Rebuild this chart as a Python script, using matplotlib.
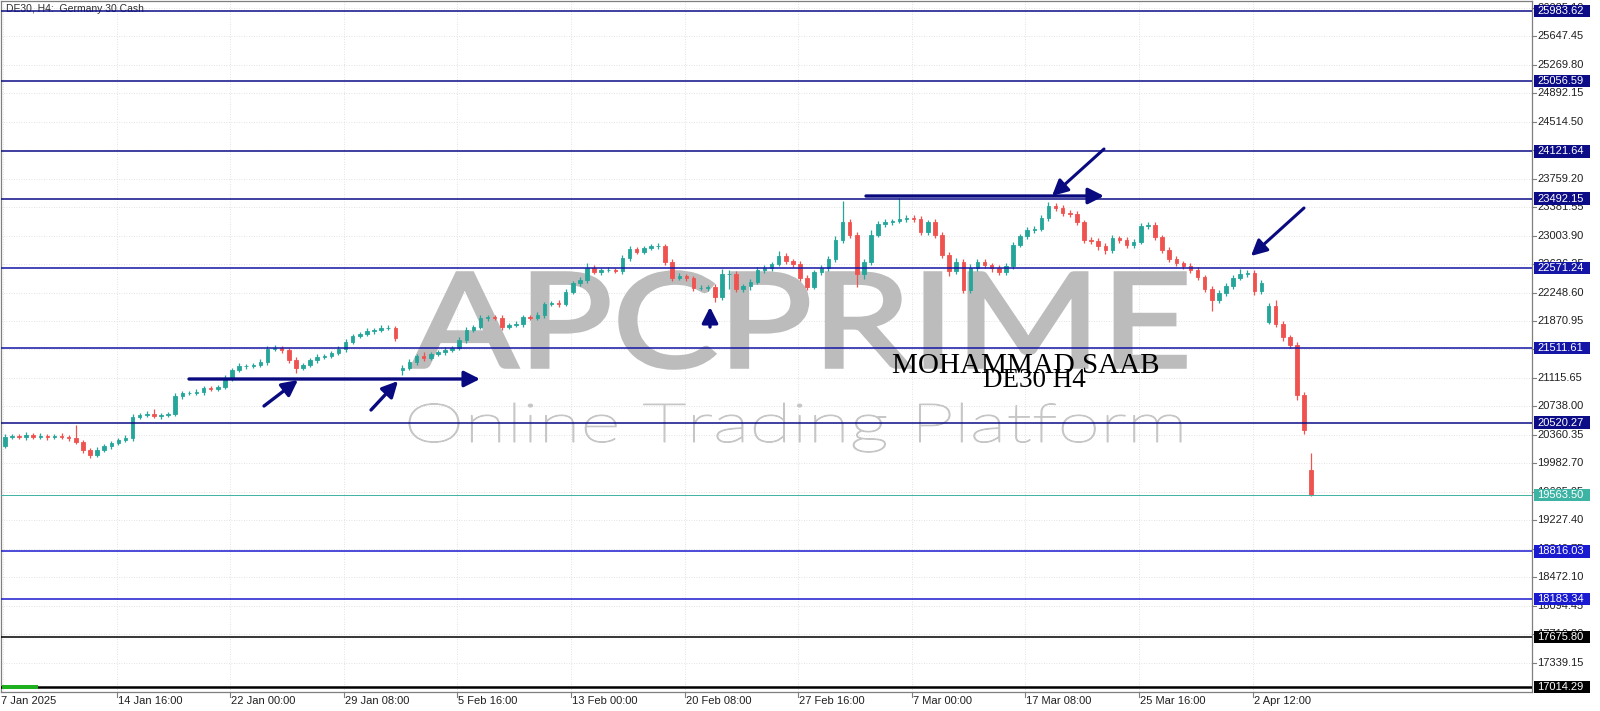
import matplotlib
matplotlib.use('Agg')
import matplotlib.pyplot as plt
import numpy as np
from matplotlib.patches import Rectangle, PathPatch, FancyArrowPatch
from matplotlib.textpath import TextPath
from matplotlib.font_manager import FontProperties
from matplotlib.transforms import Affine2D, IdentityTransform

plt.rcParams['font.family'] = ['Liberation Sans', 'DejaVu Sans']

# ---------------- data ----------------
# one candle = two H4 bars
closes = [
    20331, 20345, 20331, 20358, 20331, 20345, 20331, 20345, 20331, 20318,
    20265, 20159, 20093, 20159, 20212, 20252, 20292, 20318, 20597, 20623,
    20637, 20610, 20623, 20637, 20875, 20915, 20915, 20928, 20982, 20968,
    20995, 21114, 21220, 21273, 21273, 21287, 21327, 21499, 21512, 21486,
    21353, 21247, 21287, 21353, 21393, 21406, 21446, 21499, 21592, 21672,
    21698, 21738, 21751, 21778, 21778, 21645, 21247, 21327, 21406, 21380,
    21433, 21459, 21486, 21512, 21618, 21751, 21791, 21910, 21924, 21910,
    21791, 21817, 21831, 21924, 21910, 21950, 22096, 22109, 22096, 22255,
    22375, 22415, 22574, 22521, 22547, 22547, 22534, 22706, 22826, 22786,
    22839, 22866, 22866, 22653, 22441, 22468, 22441, 22308, 22308, 22322,
    22189, 22494, 22494, 22295, 22335, 22388, 22547, 22574, 22627, 22733,
    22667, 22627, 22441, 22322, 22521, 22574, 22693, 22945, 23184, 23012,
    22494, 22653, 23012, 23158, 23184, 23197, 23224, 23237, 23224, 23051,
    23184, 23012, 22746, 22534, 22653, 22282, 22574, 22653, 22614, 22574,
    22521, 22600, 22879, 22998, 23078, 23091, 23237, 23396, 23370, 23303,
    23290, 23184, 22945, 22932, 22866, 22813, 22972, 22945, 22879, 22919,
    23131, 23144, 22985, 22813, 22693, 22640, 22600, 22547, 22454, 22295,
    22149, 22242, 22335, 22441, 22494, 22507, 22269, 22375, 22070, 21831,
    21658, 21552, 20889, 20424, 19563.5]
gap_opens = {0: 20212, 56: 21220, 178: 21857, 184: 19894}
up_wick = [
    40, 25, 30, 45, 20, 35, 30, 25, 40, 30,
    172, 30, 25, 35, 20, 30, 25, 40, 45, 30,
    35, 60, 25, 30, 40, 30, 25, 35, 20, 30,
    25, 40, 30, 35, 25, 30, 45, 35, 40, 25,
    30, 35, 25, 30, 40, 25, 30, 35, 40, 30,
    25, 35, 30, 40, 45, 30, 35, 40, 25, 50,
    30, 25, 35, 30, 40, 35, 30, 45, 30, 25,
    35, 30, 40, 25, 30, 35, 30, 25, 40, 35,
    30, 40, 60, 35, 30, 45, 30, 40, 35, 30,
    25, 30, 40, 30, 35, 40, 30, 25, 35, 30,
    40, 60, 50, 35, 30, 40, 45, 35, 30, 60,
    35, 30, 40, 35, 30, 45, 40, 50, 280, 40,
    35, 45, 60, 40, 35, 30, 280, 40, 35, 40,
    30, 45, 40, 35, 60, 40, 50, 35, 40, 30,
    35, 40, 45, 30, 40, 35, 45, 55, 40, 35,
    40, 35, 30, 45, 40, 35, 40, 30, 35, 40,
    45, 40, 35, 30, 40, 35, 30, 40, 35, 30,
    40, 35, 45, 40, 60, 45, 35, 40, 40, 80,
    45, 30, 40, 35, 225]
dn_wick = [
    20, 30, 25, 35, 30, 25, 40, 30, 25, 35,
    30, 45, 40, 30, 25, 35, 30, 25, 40, 30,
    25, 30, 35, 25, 30, 40, 25, 30, 35, 25,
    30, 25, 40, 30, 35, 25, 30, 35, 25, 40,
    45, 67, 30, 25, 35, 30, 25, 30, 35, 25,
    30, 25, 35, 30, 25, 40, 60, 30, 45, 35,
    25, 30, 35, 25, 30, 40, 30, 25, 35, 30,
    40, 30, 25, 35, 30, 25, 40, 30, 35, 25,
    30, 35, 40, 30, 35, 25, 30, 40, 35, 30,
    25, 30, 35, 40, 45, 30, 35, 40, 30, 45,
    60, 45, 200, 40, 35, 50, 30, 35, 40, 30,
    35, 40, 45, 40, 30, 35, 40, 35, 45, 40,
    170, 60, 35, 30, 40, 35, 30, 35, 40, 45,
    35, 40, 45, 60, 40, 40, 35, 45, 40, 50,
    45, 40, 35, 30, 40, 35, 30, 40, 45, 35,
    40, 45, 35, 40, 50, 60, 35, 40, 45, 35,
    30, 35, 40, 45, 35, 40, 45, 35, 40, 45,
    150, 40, 35, 45, 30, 35, 50, 45, 30, 40,
    50, 45, 60, 50, 20]

level_prices = [25983.62, 25056.59, 24121.64, 23492.15, 22571.24, 21511.61,
                20520.27, 19563.50, 18816.03, 18183.34, 17675.80, 17014.29]
level_labels = ['25983.62', '25056.59', '24121.64', '23492.15', '22571.24', '21511.61',
                '20520.27', '19563.50', '18816.03', '18183.34', '17675.80', '17014.29']
level_colors = ['#0c0c86', '#0c0c86', '#0c0c86', '#0c0c86', '#1414a6', '#1414a6',
                '#0c0c86', '#3db3a3', '#1a1ad0', '#1a1ad0', '#000000', '#000000']

tick_labels = ['17339.15', '17716.80', '18094.45', '18472.10', '18849.75', '19227.40',
               '19605.05', '19982.70', '20360.35', '20738.00', '21115.65', '21493.30',
               '21870.95', '22248.60', '22626.25', '23003.90', '23381.55', '23759.20',
               '24136.85', '24514.50', '24892.15', '25269.80', '25647.45', '26025.10']

x_labels = ['7 Jan 2025', '14 Jan 16:00', '22 Jan 00:00', '29 Jan 08:00', '5 Feb 16:00',
            '13 Feb 00:00', '20 Feb 08:00', '27 Feb 16:00', '7 Mar 00:00', '17 Mar 08:00',
            '25 Mar 16:00', '2 Apr 12:00']
x_label_bars = [0, 32, 64, 96, 128, 160, 192, 224, 256, 288, 320, 352]

# ---------------- layout ----------------
W, H = 1600, 711
AX_L, AX_R, AX_T, AX_B = 1, 1532, 1, 692
PPP = 13.268            # price per pixel
BARPX = 3.55            # pixels per H4 bar


def py_price(y):
    return 25983.62 - (y - 11) * PPP


def bar_of_px(x):
    return (x - 3) / BARPX


def fx(px):
    return (px - AX_L) / (AX_R - AX_L)


def fy(py):
    return (AX_B - py) / (AX_B - AX_T)


fig = plt.figure(figsize=(W / 100, H / 100), dpi=100)
fig.patch.set_facecolor('white')
ax = fig.add_axes([AX_L / W, (H - AX_B) / H, (AX_R - AX_L) / W, (AX_B - AX_T) / H])
ax.set_facecolor('white')
ax.set_xlim(bar_of_px(AX_L), bar_of_px(AX_R))
ax.set_ylim(py_price(AX_B), py_price(AX_T))
ax.set_xticks([])
ax.set_yticks([])
for sp in ax.spines.values():
    sp.set_color('#7f7f7f')
    sp.set_linewidth(0.9)

tick_vals = [float(t) for t in tick_labels]

# grid
for v in tick_vals:
    ax.axhline(v, color='#d9d9d9', lw=0.6, ls=(0, (1, 2)), zorder=0.5)
for b in x_label_bars:
    ax.axvline(b, color='#d9d9d9', lw=0.6, ls=(0, (1, 2)), zorder=0.5)

# watermark
pix = IdentityTransform()


def fit_text(s, prop, x0, x1, ytop, ybot, color, stroke=0.0, zorder=1.0):
    tp = TextPath((0, 0), s, size=100, prop=prop)
    ext = tp.get_extents()
    sx = (x1 - x0) / ext.width
    sy = (ybot - ytop) / ext.height
    tr = Affine2D().translate(-ext.x0, -ext.y0).scale(sx, sy).translate(x0, H - ybot)
    patch = PathPatch(tr.transform_path(tp), facecolor=color, edgecolor=color,
                      linewidth=stroke, transform=pix, zorder=zorder, clip_on=False)
    ax.add_artist(patch)


def fit_text_asc(s, prop, x0, x1, baseline, asc_px, color, stroke=0.0, zorder=1.0):
    tp = TextPath((0, 0), s, size=100, prop=prop)
    ext = tp.get_extents()
    asc = TextPath((0, 0), 'l', size=100, prop=prop).get_extents().y1
    sx = (x1 - x0) / ext.width
    sy = asc_px / asc
    tr = Affine2D().translate(-ext.x0, 0).scale(sx, sy).translate(x0, H - baseline)
    patch = PathPatch(tr.transform_path(tp), facecolor=color, edgecolor=color,
                      linewidth=stroke, transform=pix, zorder=zorder, clip_on=False)
    ax.add_artist(patch)


fit_text('APCPRIME', FontProperties(family='Lato', weight='normal'),
         412, 1185, 272, 368, '#bcbcbc', stroke=2.6)
fit_text_asc('Online Trading Platform', FontProperties(family='Lato', weight='light'),
             409, 1181, 442, 39, '#c6c6c6', stroke=0.8)

# candles
closes_a = np.array(closes, dtype=float)
opens = []
prev = None
for k, c in enumerate(closes):
    if k in gap_opens:
        opens.append(gap_opens[k])
    else:
        opens.append(prev)
    prev = c
opens = np.array(opens, dtype=float)
highs = np.maximum(opens, closes_a) + np.array(up_wick)
lows = np.minimum(opens, closes_a) - np.array(dn_wick)
xs = 2 * np.arange(len(closes)) + 0.5
BULL, BEAR = '#26a69a', '#ef5350'
cols = np.where(closes_a >= opens, BULL, BEAR)
ax.vlines(xs, lows, highs, colors=cols, lw=0.9, zorder=3)
ax.bar(xs, closes_a - opens, bottom=opens, width=1.0, color=cols, edgecolor=cols,
       linewidth=0.6, zorder=3.1)

# horizontal levels
for p, c in zip(level_prices, level_colors):
    lw = 1.1
    if c == '#3db3a3':
        lw = 0.7
    if p == 17014.29:
        lw = 1.8
    ax.axhline(p, color=c, lw=lw, zorder=4)

# right price axis
ytr = ax.get_yaxis_transform()
for v, s in zip(tick_vals, tick_labels):
    ax.plot([1.0, fx(1536)], [v, v], color='#7f7f7f', lw=0.8, transform=ytr,
            clip_on=False, zorder=5)
    ax.text(fx(1537), v, s, transform=ytr, ha='left', va='center', fontsize=8,
            color='#202020', clip_on=False, zorder=5)
for p, s, c in zip(level_prices, level_labels, level_colors):
    ax.add_patch(Rectangle((fx(1534), p - 6.3 * PPP), fx(1590) - fx(1534), 12.6 * PPP,
                           transform=ytr, facecolor=c, edgecolor='none', clip_on=False,
                           zorder=6))
    ax.text(fx(1537), p, s, transform=ytr, ha='left', va='center', fontsize=8,
            color='white', clip_on=False, zorder=7)

# bottom time axis
xtr = ax.get_xaxis_transform()
for b, s in zip(x_label_bars, x_labels):
    if b > 0:
        ax.plot([b, b], [0, fy(697)], color='#7f7f7f', lw=0.8, transform=xtr,
                clip_on=False, zorder=5)
    ax.text(b + 1 / BARPX if b > 0 else bar_of_px(1), fy(701), s, transform=xtr,
            ha='left', va='center', fontsize=8, color='#202020', clip_on=False)

# green bar bottom-left
ax.add_patch(Rectangle((2, H - 689), 36, 4, transform=pix, facecolor='#1fb01f',
                       edgecolor='none', zorder=6, clip_on=False))

# title
ax.text(6, H - 9, 'DE30, H4:  Germany 30 Cash', transform=pix, ha='left', va='center',
        fontsize=7.5, color='#303030', zorder=3)

# arrows (figure pixel coordinates, y measured from top)
NAVY = '#0a0a80'


def arrow(x0, y0, x1, y1, lw=2.4, hl=9.5, hw=4.8):
    a = FancyArrowPatch((x0, H - y0), (x1, H - y1), transform=pix,
                        arrowstyle='-|>,head_length=%g,head_width=%g' % (hl, hw),
                        mutation_scale=1, lw=lw, color=NAVY, shrinkA=0, shrinkB=0,
                        zorder=8, clip_on=False)
    ax.add_artist(a)


arrow(189, 379, 480, 379)
arrow(264, 406, 298, 380)
arrow(371, 410, 398, 381)
arrow(710, 327, 710, 307)
arrow(866, 196, 1104, 196)
arrow(1104, 149, 1052, 196, lw=2.2)
arrow(1304, 208, 1251, 256, lw=2.2)

# author text
ax.text(892, H - 373, 'MOHAMMAD SAAB', transform=pix, ha='left', va='baseline',
        fontsize=21, family='Liberation Serif', color='black', zorder=9)
ax.text(983, H - 387, 'DE30 H4', transform=pix, ha='left', va='baseline',
        fontsize=19.5, family='Liberation Serif', color='black', zorder=9)

fig.savefig('out.png', dpi=100, facecolor='white')
